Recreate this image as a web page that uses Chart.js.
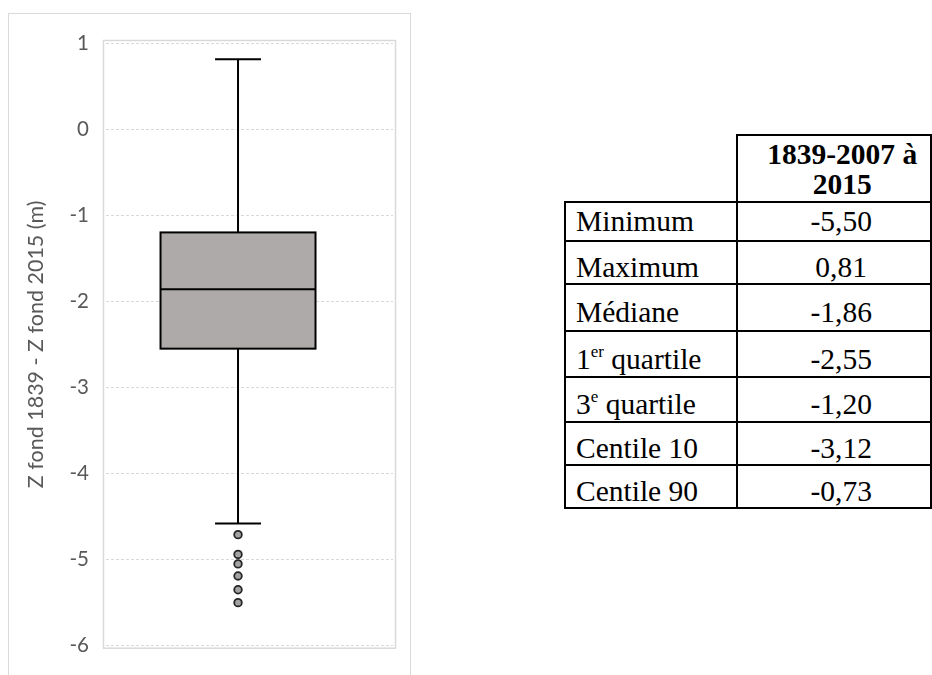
<!DOCTYPE html>
<html lang="fr">
<head>
<meta charset="utf-8">
<title>Z fond 1839 - Z fond 2015</title>
<script src="https://cdn.jsdelivr.net/npm/chart.js@4/dist/chart.umd.min.js"></script>
<style>
  html, body { margin: 0; padding: 0; background: #fff; }
  body { width: 932px; height: 675px; position: relative; overflow: hidden; }
  #frame { position: absolute; left: 8px; top: 13px; width: 403px; height: 690px;
           border: 1px solid #d9d9d9; box-sizing: border-box; }
  #plot { position: absolute; left: 0; top: 0; }
  #stats { position: absolute; left: 564px; top: 134px; border-collapse: collapse;
           font-family: "Liberation Serif", "Times New Roman", serif; font-size: 29.5px; color: #000; }
  #stats td, #stats th { border: 2px solid #000; padding: 0; vertical-align: middle; }
  #stats td { line-height: 31px; }
  #stats th { font-weight: bold; text-align: center; line-height: 30px; padding-left: 16px; }
  #stats th.blank { border-top: none; border-left: none; }
  #stats td.lab { text-align: left; padding-left: 10px; padding-top: 10px; }
  #stats td.val { text-align: center; padding-left: 14px; padding-top: 10px; }
  #stats sup { font-size: 17px; vertical-align: 12px; line-height: 0; }
</style>
</head>
<body>
<div id="frame"></div>
<canvas id="plot" width="420" height="675"></canvas>
<table id="stats"></table>
<script>
// Summary statistics of Z fond 1839 - Z fond 2015 (m)
const statLabels = ['Minimum', 'Maximum', 'Médiane', '1<sup>er</sup> quartile', '3<sup>e</sup> quartile', 'Centile 10', 'Centile 90'];
const statValues = [-5.50, 0.81, -1.86, -2.55, -1.20, -3.12, -0.73];
const columnTitle = '1839-2007 à<br>2015';

// Box plot pieces
const lowerWhisker = -4.58;
const outlierValues = [-4.71, -4.94, -5.05, -5.19, -5.35, statValues[0]];

// Axis
const yMin = -6, yMax = 1, yStep = 1;
const yTitle = 'Z fond 1839 - Z fond 2015 (m)';

// Table row heights (px)
const rowHeights = [67, 39, 42, 47, 46, 45, 42, 41];

const box = {
  q1: statValues[3], median: statValues[2], q3: statValues[4],
  low: lowerWhisker, high: statValues[1]
};

// Geometry of the box on a 0..1 horizontal scale
const BOX_X = 0.46, BOX_HALF = 0.27, CAP_HALF = 0.08;

// ---- table ----
const fmt = v => v.toFixed(2).replace('.', ',');
const table = document.getElementById('stats');
let html = '<tr style="height:' + rowHeights[0] + 'px"><th class="blank" style="width:159px"></th>' +
           '<th style="width:186px">' + columnTitle + '</th></tr>';
statLabels.forEach((lab, i) => {
  const pt = i === 0 ? 'padding-top:0' : '';
  html += '<tr style="height:' + rowHeights[i + 1] + 'px"><td class="lab" style="' + pt + '">' + lab +
          '</td><td class="val" style="' + pt + '">' + fmt(statValues[i]) + '</td></tr>';
});
table.innerHTML = html;

// ---- chart ----
const boxPlot = {
  id: 'boxPlot',
  beforeDatasetsDraw(chart) {
    const { ctx, chartArea: a, scales: { x, y } } = chart;
    ctx.save();
    // plot-area frame
    ctx.strokeStyle = '#d9d9d9';
    ctx.lineWidth = 1.5;
    ctx.strokeRect(a.left - 2.5, a.top - 2.5, a.right - a.left + 5, a.bottom - a.top + 5);

    const cx = x.getPixelForValue(BOX_X);
    const l = x.getPixelForValue(BOX_X - BOX_HALF), r = x.getPixelForValue(BOX_X + BOX_HALF);
    const cl = x.getPixelForValue(BOX_X - CAP_HALF), cr = x.getPixelForValue(BOX_X + CAP_HALF);
    const yq1 = y.getPixelForValue(box.q1), yq3 = y.getPixelForValue(box.q3);
    const ymed = y.getPixelForValue(box.median);
    const ylo = y.getPixelForValue(box.low), yhi = y.getPixelForValue(box.high);

    ctx.strokeStyle = '#000';
    ctx.lineWidth = 2;
    ctx.beginPath();
    // whiskers
    ctx.moveTo(cx, yq3); ctx.lineTo(cx, yhi);
    ctx.moveTo(cx, yq1); ctx.lineTo(cx, ylo);
    // caps
    ctx.moveTo(cl, yhi); ctx.lineTo(cr, yhi);
    ctx.moveTo(cl, ylo); ctx.lineTo(cr, ylo);
    ctx.stroke();

    // box
    ctx.fillStyle = '#aeaaaa';
    ctx.fillRect(l, yq3, r - l, yq1 - yq3);
    ctx.strokeRect(l, yq3, r - l, yq1 - yq3);
    // median
    ctx.beginPath();
    ctx.moveTo(l, ymed); ctx.lineTo(r, ymed);
    ctx.stroke();
    ctx.restore();
  }
};

new Chart(document.getElementById('plot'), {
  type: 'scatter',
  data: {
    datasets: [{
      label: 'Valeurs atypiques',
      data: outlierValues.map(v => ({ x: BOX_X, y: v })),
      pointRadius: 3.8,
      pointBorderWidth: 1.8,
      pointBackgroundColor: '#a3a3a3',
      pointBorderColor: '#262626'
    }]
  },
  options: {
    responsive: false,
    animation: false,
    events: [],
    layout: { padding: { left: 0, top: 43, right: 27, bottom: 23.5 } },
    plugins: { legend: { display: false }, tooltip: { enabled: false } },
    scales: {
      x: { type: 'linear', min: 0, max: 1, display: false },
      y: {
        type: 'linear', min: yMin, max: yMax,
        afterFit(scale) { scale.width = 106; },
        ticks: { stepSize: yStep, padding: 17, color: '#595959',
                 font: { family: 'Lato', size: 20.5 } },
        grid: { color: '#d9d9d9', lineWidth: 1, drawTicks: false },
        border: { display: false, dash: [3, 2] },
        title: { display: true, text: yTitle, color: '#595959',
                 font: { family: 'Lato', size: 21.5 }, padding: { top: 23, bottom: 0 } }
      }
    }
  },
  plugins: [boxPlot]
});
</script>
</body>
</html>
